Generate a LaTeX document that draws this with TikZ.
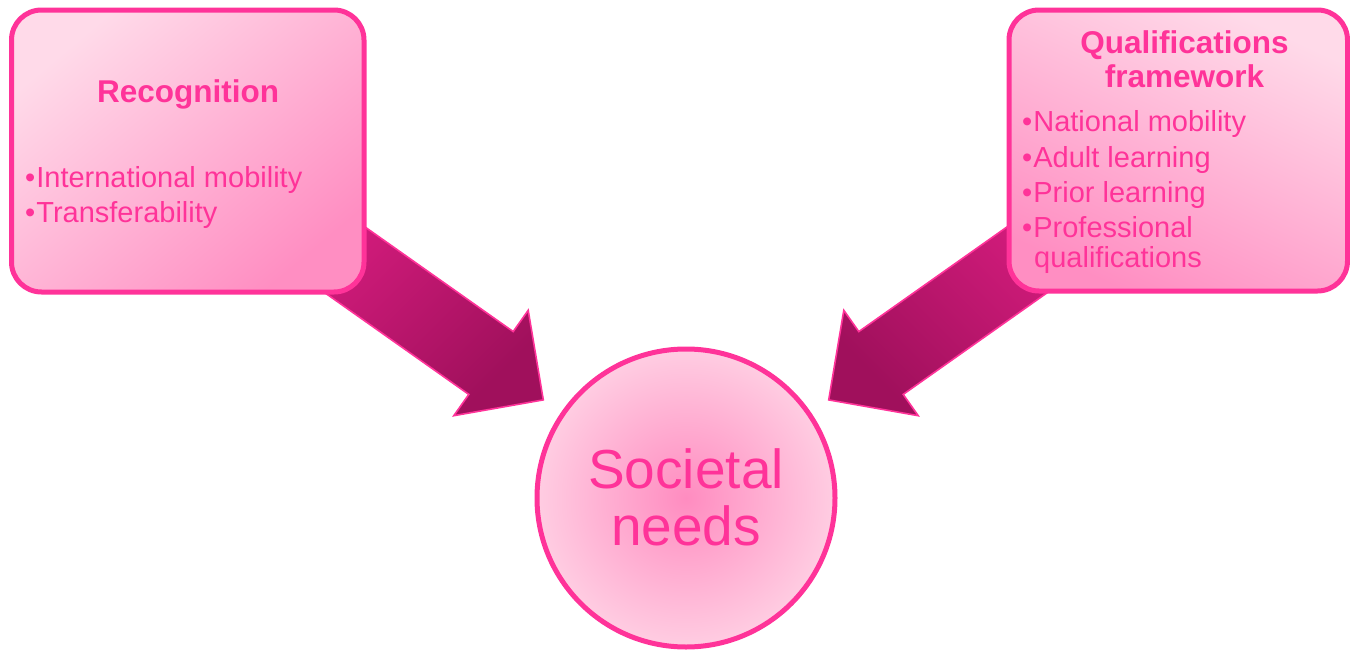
\documentclass[tikz,border=0pt]{standalone}
\usepackage{fontspec}
\setmainfont{Liberation Sans}
\definecolor{hotpink}{HTML}{FF3399}
\definecolor{boxlight}{HTML}{FFDAE9}
\definecolor{boxdark}{HTML}{FF8EC2}
\definecolor{arrlight}{HTML}{E62088}
\definecolor{arrmid}{HTML}{CC1A7A}
\definecolor{arrdark}{HTML}{A0105C}
\definecolor{circin}{HTML}{FF8CC0}
\definecolor{circout}{HTML}{FFCDE2}
\newcommand{\bul}{•\kern1pt}
\tikzset{
  panel/.style={draw=hotpink, line width=5pt, rounded corners=30pt},
  blockarrow/.style={draw=hotpink, line width=1.6pt, line join=miter, top color=arrlight, middle color=arrmid, bottom color=arrdark},
  heading/.style={text=hotpink, font=\bfseries\fontsize{31.5}{36}\selectfont, inner sep=0pt, anchor=base},
  item/.style={text=hotpink, font=\fontsize{29}{35}\selectfont, inner sep=0pt, anchor=base west},
  bigtext/.style={text=hotpink, font=\fontsize{55}{57}\selectfont, inner sep=0pt, anchor=base},
}
\begin{document}
\begin{tikzpicture}[x=1pt,y=-1pt]
\useasboundingbox (0,0) rectangle (1350,653);
% block arrows (drawn beneath the boxes)
\draw[blockarrow, shading angle=45]
  (268.2,158.6) -- (513.2,331.6) -- (528.2,310.3) -- (543.3,399.9) -- (453.8,415.7) -- (468.8,394.4) -- (223.8,221.4) -- cycle;
\draw[blockarrow, shading angle=-45]
  (1103.8,158.6) -- (858.8,331.6) -- (843.8,310.3) -- (828.7,399.9) -- (918.2,415.7) -- (903.2,394.4) -- (1148.2,221.4) -- cycle;
% boxes
\draw[panel, top color=boxlight, bottom color=boxdark, shading angle=40] (11.5,10) rectangle (364,292);
\node[coordinate] (recog) at (187.75,151) {};
\draw[panel, top color=boxlight, bottom color=boxdark, shading angle=-25] (1009,10) rectangle (1347.5,291);
\node[coordinate] (qual) at (1178,150) {};
% circle
\node[circle, draw=hotpink, line width=5pt, minimum size=298pt, inner color=circin, outer color=circout] (needs) at (686,498) {};
% texts
\node[heading] (t1) at (188,102) {Recognition};
\node[item] (t2) at (25,187) {\bul International mobility};
\node[item] (t3) at (25,222) {\bul Transferability};
\node[heading] (q1) at (1184.5,53) {Qualifications};
\node[heading] (q2) at (1184.5,87) {framework};
\node[item] (q3) at (1022,131) {\bul National mobility};
\node[item] (q4) at (1022,167) {\bul Adult learning};
\node[item] (q5) at (1022,202) {\bul Prior learning};
\node[item] (q6) at (1022,237) {\bul Professional};
\node[item] (q7) at (1034,267) {qualifications};
\node[bigtext] (n1) at (686,488) {Societal};
\node[bigtext] (n2) at (686,545) {needs};
\end{tikzpicture}
\end{document}
